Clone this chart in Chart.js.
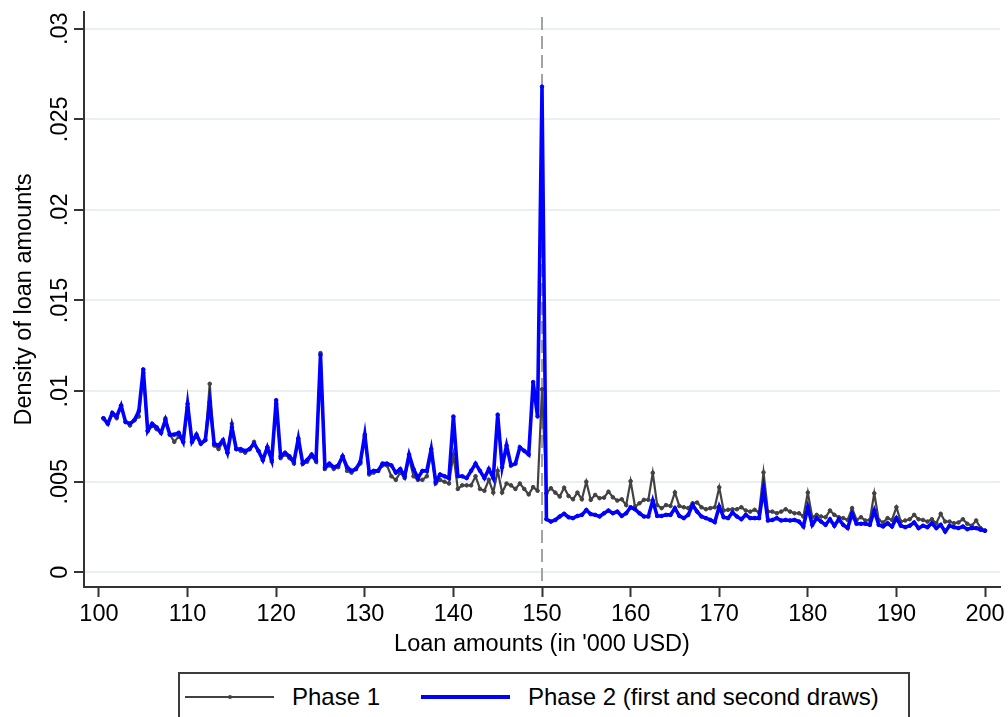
<!DOCTYPE html>
<html>
<head>
<meta charset="utf-8">
<title>Density of loan amounts</title>
<script src="https://cdn.jsdelivr.net/npm/chart.js@4.4.1/dist/chart.umd.min.js"></script>
<style>
  html, body { margin: 0; padding: 0; background: #fff; overflow: hidden; }
  #wrap { position: relative; width: 1008px; height: 717px; }
  #legend {
    position: absolute; left: 178px; top: 672px; width: 732px; height: 70px;
    box-sizing: border-box; border: 2px solid #3c3c3c; background: #fff;
    font-family: "Liberation Sans", Arial, Helvetica, sans-serif; font-size: 24px; color: #000;
  }
  .item { position: absolute; top: 10px; height: 26px; display: flex; align-items: center; white-space: nowrap; }
  .swatch { position: relative; width: 89px; margin-right: 18px; }
  .swatch i { position: absolute; left: 50%; top: 50%; width: 4px; height: 4px; margin: -2px 0 0 -2px; border-radius: 50%; }
</style>
</head>
<body>
<div id="wrap">
  <canvas id="densityChart"></canvas>
  <div id="legend"></div>
</div>
<script>
// loan amount bins ('000 USD)
const bins = [
  100.5, 101, 101.5, 102, 102.5, 103, 103.5, 104, 104.5, 105,
  105.5, 106, 106.5, 107, 107.5, 108, 108.5, 109, 109.5, 110,
  110.5, 111, 111.5, 112, 112.5, 113, 113.5, 114, 114.5, 115,
  115.5, 116, 116.5, 117, 117.5, 118, 118.5, 119, 119.5, 120,
  120.5, 121, 121.5, 122, 122.5, 123, 123.5, 124, 124.5, 125,
  125.5, 126, 126.5, 127, 127.5, 128, 128.5, 129, 129.5, 130,
  130.5, 131, 131.5, 132, 132.5, 133, 133.5, 134, 134.5, 135,
  135.5, 136, 136.5, 137, 137.5, 138, 138.5, 139, 139.5, 140,
  140.5, 141, 141.5, 142, 142.5, 143, 143.5, 144, 144.5, 145,
  145.5, 146, 146.5, 147, 147.5, 148, 148.5, 149, 149.5, 150,
  150.5, 151, 151.5, 152, 152.5, 153, 153.5, 154, 154.5, 155,
  155.5, 156, 156.5, 157, 157.5, 158, 158.5, 159, 159.5, 160,
  160.5, 161, 161.5, 162, 162.5, 163, 163.5, 164, 164.5, 165,
  165.5, 166, 166.5, 167, 167.5, 168, 168.5, 169, 169.5, 170,
  170.5, 171, 171.5, 172, 172.5, 173, 173.5, 174, 174.5, 175,
  175.5, 176, 176.5, 177, 177.5, 178, 178.5, 179, 179.5, 180,
  180.5, 181, 181.5, 182, 182.5, 183, 183.5, 184, 184.5, 185,
  185.5, 186, 186.5, 187, 187.5, 188, 188.5, 189, 189.5, 190,
  190.5, 191, 191.5, 192, 192.5, 193, 193.5, 194, 194.5, 195,
  195.5, 196, 196.5, 197, 197.5, 198, 198.5, 199, 199.5, 200
];

const phase1 = [
  0.0085, 0.0082, 0.0087, 0.0085, 0.0092, 0.0083, 0.0081, 0.0084, 0.0086, 0.0110,
  0.0078, 0.0081, 0.0079, 0.0077, 0.0085, 0.0076, 0.0072, 0.0075, 0.0072, 0.0091,
  0.0072, 0.0075, 0.0071, 0.0073, 0.0104, 0.0070, 0.0068, 0.0072, 0.0066, 0.0082,
  0.0068, 0.0067, 0.0066, 0.0068, 0.0072, 0.0067, 0.0062, 0.0069, 0.0061, 0.0093,
  0.0063, 0.0065, 0.0063, 0.0060, 0.0073, 0.0060, 0.0061, 0.0064, 0.0061, 0.0121,
  0.0057, 0.0059, 0.0057, 0.0058, 0.0064, 0.0056, 0.0055, 0.0057, 0.0060, 0.0075,
  0.0054, 0.0055, 0.0056, 0.0059, 0.0059, 0.0053, 0.0051, 0.0055, 0.0052, 0.0063,
  0.0053, 0.0051, 0.0051, 0.0053, 0.0066, 0.0049, 0.0051, 0.0050, 0.0049, 0.0065,
  0.0046, 0.0048, 0.0048, 0.0048, 0.0053, 0.0046, 0.0045, 0.0051, 0.0044, 0.0056,
  0.0044, 0.0049, 0.0048, 0.0046, 0.0049, 0.0046, 0.0043, 0.0047, 0.0045, 0.0101,
  0.00436, 0.00464, 0.00440, 0.00418, 0.00467, 0.00421, 0.00403, 0.00440, 0.00403, 0.00500,
  0.00400, 0.00427, 0.00409, 0.00412, 0.00445, 0.00414, 0.00396, 0.00403, 0.00371, 0.00503,
  0.00363, 0.00381, 0.00400, 0.00400, 0.00549, 0.00371, 0.00354, 0.00371, 0.00366, 0.00441,
  0.00366, 0.00359, 0.00354, 0.00381, 0.00385, 0.00359, 0.00348, 0.00354, 0.00359, 0.00469,
  0.00341, 0.00345, 0.00348, 0.00348, 0.00359, 0.00341, 0.00335, 0.00345, 0.00330, 0.00551,
  0.00335, 0.00335, 0.00326, 0.00335, 0.00348, 0.00335, 0.00326, 0.00326, 0.00308, 0.00440,
  0.00304, 0.00317, 0.00308, 0.00304, 0.00341, 0.00317, 0.00304, 0.00299, 0.00289, 0.00354,
  0.00289, 0.00304, 0.00286, 0.00289, 0.00436, 0.00289, 0.00275, 0.00299, 0.00289, 0.00359,
  0.00280, 0.00286, 0.00293, 0.00317, 0.00293, 0.00289, 0.00280, 0.00293, 0.00271, 0.00323,
  0.00280, 0.00280, 0.00271, 0.00275, 0.00293, 0.00268, 0.00257, 0.00286, 0.00244, 0.00231
];

const phase2 = [
  0.0085, 0.0082, 0.0088, 0.0086, 0.0092, 0.0083, 0.0082, 0.0084, 0.0089, 0.0112,
  0.0078, 0.0082, 0.0080, 0.0077, 0.0084, 0.0076, 0.0076, 0.0077, 0.0072, 0.0093,
  0.0072, 0.0076, 0.0071, 0.0073, 0.0094, 0.0071, 0.0070, 0.0073, 0.0066, 0.0080,
  0.0068, 0.0068, 0.0067, 0.0068, 0.0071, 0.0067, 0.0062, 0.0069, 0.0062, 0.0095,
  0.0064, 0.0066, 0.0064, 0.0061, 0.0074, 0.0060, 0.0062, 0.0065, 0.0062, 0.0120,
  0.0058, 0.0060, 0.0058, 0.0059, 0.0064, 0.0058, 0.0056, 0.0057, 0.0061, 0.0076,
  0.0055, 0.0056, 0.0056, 0.0060, 0.0060, 0.0059, 0.0055, 0.0057, 0.0053, 0.0065,
  0.0057, 0.0052, 0.0056, 0.0056, 0.0068, 0.0050, 0.0054, 0.0053, 0.0052, 0.0086,
  0.0053, 0.0053, 0.0052, 0.0056, 0.0060, 0.0056, 0.0052, 0.0057, 0.0052, 0.0087,
  0.0058, 0.0070, 0.0059, 0.0060, 0.0069, 0.0067, 0.0065, 0.0105, 0.0086, 0.0268,
  0.00293, 0.00280, 0.00289, 0.00308, 0.00323, 0.00304, 0.00299, 0.00311, 0.00317, 0.00344,
  0.00321, 0.00317, 0.00308, 0.00326, 0.00341, 0.00326, 0.00335, 0.00311, 0.00326, 0.00359,
  0.00348, 0.00326, 0.00308, 0.00308, 0.00396, 0.00311, 0.00311, 0.00317, 0.00317, 0.00354,
  0.00311, 0.00299, 0.00317, 0.00372, 0.00335, 0.00308, 0.00299, 0.00289, 0.00277, 0.00363,
  0.00304, 0.00299, 0.00330, 0.00308, 0.00293, 0.00317, 0.00299, 0.00299, 0.00299, 0.00460,
  0.00286, 0.00289, 0.00299, 0.00286, 0.00289, 0.00286, 0.00289, 0.00280, 0.00253, 0.00359,
  0.00262, 0.00299, 0.00280, 0.00262, 0.00293, 0.00257, 0.00293, 0.00262, 0.00244, 0.00323,
  0.00268, 0.00268, 0.00268, 0.00262, 0.00341, 0.00262, 0.00253, 0.00271, 0.00253, 0.00299,
  0.00257, 0.00249, 0.00257, 0.00275, 0.00244, 0.00257, 0.00249, 0.00271, 0.00244, 0.00262,
  0.00225, 0.00257, 0.00249, 0.00244, 0.00253, 0.00238, 0.00244, 0.00244, 0.00235, 0.00229
];

const xTicks = [100, 110, 120, 130, 140, 150, 160, 170, 180, 190, 200];
const yTicks = [0, 0.005, 0.01, 0.015, 0.02, 0.025, 0.03];
const cutoff = 150;

document.addEventListener("DOMContentLoaded", () => {
  const font = { family: '"Liberation Sans", Arial, Helvetica, sans-serif', size: 23.5 };
  Chart.defaults.font.family = font.family;
  Chart.defaults.color = "#000";

  // grey dashed vertical line at the 150k cutoff, under the series
  const cutoffLine = {
    id: "cutoffLine",
    beforeDatasetsDraw(chart) {
      const { ctx, chartArea, scales } = chart;
      const x = scales.x.getPixelForValue(cutoff);
      ctx.save();
      ctx.strokeStyle = "#a3a3a3";
      ctx.lineWidth = 2;
      ctx.setLineDash([13, 6]);
      ctx.beginPath();
      ctx.moveTo(x, chartArea.top + 5);
      ctx.lineTo(x, chartArea.bottom);
      ctx.stroke();
      ctx.restore();
    }
  };

  const series = [
    { label: "Phase 1", values: phase1, color: "#424242", width: 2.2, order: 1 },
    { label: "Phase 2 (first and second draws)", values: phase2, color: "#0000ff", width: 3.6, order: 0 }
  ];

  const datasets = series.map(s => ({
    label: s.label,
    data: bins.map((x, i) => ({ x, y: s.values[i] })),
    borderColor: s.color,
    backgroundColor: s.color,
    borderWidth: s.width,
    pointRadius: 1.8,
    pointBorderWidth: 1,
    pointHoverRadius: 0,
    tension: 0,
    order: s.order
  }));

  const canvas = document.getElementById("densityChart");
  new Chart(canvas.getContext("2d"), {
    type: "line",
    data: { datasets },
    plugins: [cutoffLine],
    options: {
      responsive: true,
      maintainAspectRatio: false,
      animation: false,
      layout: { padding: { top: 12, right: 8, bottom: 0, left: 0 } },
      plugins: { legend: { display: false }, tooltip: { enabled: false } },
      scales: {
        x: {
          type: "linear",
          min: 98.31,
          max: 201.69,
          afterBuildTicks: scale => { scale.ticks = xTicks.map(v => ({ value: v })); },
          afterFit: scale => { scale.height = 130; scale.paddingLeft = 0; scale.paddingRight = 0; },
          grid: { drawOnChartArea: false, tickLength: 10, tickColor: "#333", tickWidth: 2 },
          border: { color: "#333", width: 2 },
          ticks: { font, color: "#000", padding: 3, maxRotation: 0, autoSkip: false },
          title: { display: true, text: "Loan amounts (in '000 USD)", font, color: "#000", padding: { top: 0, bottom: 58 } }
        },
        y: {
          min: -0.00081,
          max: 0.03092,
          afterBuildTicks: scale => { scale.ticks = yTicks.map(v => ({ value: v })); },
          afterFit: scale => { scale.width = 84; scale.paddingTop = 0; scale.paddingBottom = 0; },
          grid: { color: "#e8f0f1", lineWidth: 2, tickLength: 10, tickColor: "#333", tickWidth: 2 },
          border: { color: "#333", width: 2 },
          ticks: {
            font, color: "#000", minRotation: 90, maxRotation: 90, crossAlign: "center", padding: -9, autoSkip: false,
            callback: v => v === 0 ? "0" : String(v).replace(/^0/, "")
          },
          title: { display: true, text: "Density of loan amounts", font, color: "#000", padding: { top: 10, bottom: 0 } }
        }
      }
    }
  });

  // legend box below the plot, built from the same series list
  const legend = document.getElementById("legend");
  const lefts = [5, 241];
  series.forEach((s, i) => {
    const item = document.createElement("div");
    item.className = "item";
    item.style.left = lefts[i] + "px";
    const sw = document.createElement("span");
    sw.className = "swatch";
    sw.style.height = s.width + "px";
    sw.style.background = s.color;
    const dot = document.createElement("i");
    dot.style.background = s.color;
    sw.appendChild(dot);
    const txt = document.createElement("span");
    txt.textContent = s.label;
    item.appendChild(sw);
    item.appendChild(txt);
    legend.appendChild(item);
  });
});
</script>
</body>
</html>
